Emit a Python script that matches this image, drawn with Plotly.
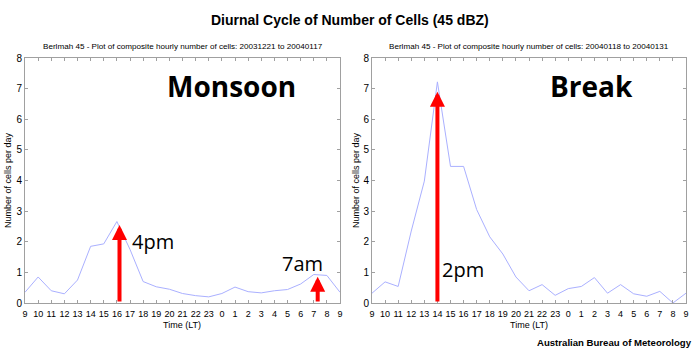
import plotly.graph_objects as go

hours = ["9", "10", "11", "12", "13", "14", "15", "16", "17", "18", "19", "20", "21", "22", "23",
         "0", "1", "2", "3", "4", "5", "6", "7", "8", "9"]
monsoon = [0.35, 0.85, 0.40, 0.30, 0.75, 1.85, 1.93, 2.66, 1.75, 0.70, 0.53, 0.45, 0.31, 0.24, 0.20,
           0.31, 0.52, 0.37, 0.33, 0.40, 0.44, 0.62, 0.93, 0.90, 0.35]
brk = [0.32, 0.69, 0.54, 2.35, 3.98, 7.22, 4.46, 4.46, 3.05, 2.16, 1.60, 0.85, 0.40, 0.60, 0.25,
       0.47, 0.54, 0.83, 0.32, 0.60, 0.30, 0.22, 0.38, 0.00, 0.32]
yticks = [0, 1, 2, 3, 4, 5, 6, 7, 8]

# arrows: (panel, x position in hour-index, tip value, label)
arrow_panel = [1, 1, 2]
arrow_x = [7.2, 22.3, 5.0]
arrow_tip = [2.55, 0.86, 6.9]
arrow_label = ["4pm", "7am", "2pm"]

xpos = list(range(len(hours)))
LINE = "#aab0ff"
AX = "#a0a0a0"
FONT = "Liberation Sans, Arial, sans-serif"

fig = go.Figure()
fig.add_trace(go.Scatter(x=xpos, y=monsoon, mode="lines", line=dict(color=LINE, width=1),
                         xaxis="x", yaxis="y", showlegend=False, hoverinfo="skip"))
fig.add_trace(go.Scatter(x=xpos, y=brk, mode="lines", line=dict(color=LINE, width=1),
                         xaxis="x2", yaxis="y2", showlegend=False, hoverinfo="skip"))

axis_common = dict(showgrid=False, zeroline=False, showline=True, linecolor=AX, linewidth=1,
                   mirror="ticks", ticks="inside", ticklen=3, tickcolor=AX, tickangle=0,
                   automargin=False)
xfont = dict(family=FONT, size=9, color="#000")
yfont = dict(family=FONT, size=10, color="#000")

bottom, top = (350 - 303) / 350, (350 - 58) / 350
fig.update_layout(
    width=700, height=350, margin=dict(l=0, r=0, t=0, b=0, autoexpand=False),
    paper_bgcolor="white", plot_bgcolor="white",
    xaxis=dict(domain=[25 / 700, 340 / 700], range=[0, 24], tickvals=xpos, ticktext=hours,
               anchor="y", ticklabelstandoff=2, tickfont=xfont, **axis_common),
    yaxis=dict(domain=[bottom, top], range=[0, 8], tickvals=yticks, anchor="x",
               tickfont=yfont, **axis_common),
    xaxis2=dict(domain=[372 / 700, 686 / 700], range=[0, 24], tickvals=xpos, ticktext=hours,
                anchor="y2", ticklabelstandoff=2, tickfont=xfont, **axis_common),
    yaxis2=dict(domain=[bottom, top], range=[0, 8], tickvals=yticks, anchor="x2",
                tickfont=yfont, **axis_common),
)

ann = []
def txt(text, x, y, size, family=FONT, angle=0, xanchor="center"):
    ann.append(dict(text=text, x=x / 700, y=1 - y / 350, xref="paper", yref="paper", showarrow=False,
                    xanchor=xanchor, yanchor="middle", textangle=angle, borderpad=0,
                    font=dict(family=family, size=size, color="#000")))

txt("<b>Diurnal Cycle of Number of Cells (45 dBZ)</b>", 350, 20, 14)
txt("Berlmah 45 - Plot of composite hourly number of cells: 20031221 to 20040117", 183, 46, 8.1)
txt("Berlmah 45 - Plot of composite hourly number of cells: 20040118 to 20040131", 529, 46, 8.1)
txt("Number of cells per day", 8, 180, 9, angle=-90)
txt("Number of cells per day", 356, 180, 9, angle=-90)
txt("Time (LT)", 182, 325, 9)
txt("Time (LT)", 529, 325, 9)
txt("<b>Australian Bureau of Meteorology</b>", 693, 342, 9.6, xanchor="right")
txt("<b>Monsoon</b>", 232, 86, 28, family="Open Sans")
txt("<b>Break</b>", 591, 86, 28, family="Open Sans")

label_pos = {"4pm": (153, 241), "7am": (302, 263), "2pm": (463, 269)}
for p, xa, tip, lab in zip(arrow_panel, arrow_x, arrow_tip, arrow_label):
    xr = "x" if p == 1 else "x2"
    yr = "y" if p == 1 else "y2"
    ann.append(dict(x=xa, y=tip, ax=xa, ay=0, xref=xr, yref=yr, axref=xr, ayref=yr, text="",
                    showarrow=True, arrowhead=2, arrowsize=0.75, arrowwidth=4, arrowcolor="#ff0000"))
    lx, ly = label_pos[lab]
    txt(lab, lx, ly, 20, family="Open Sans")
fig.update_layout(annotations=ann)

fig.write_html("out.html")
